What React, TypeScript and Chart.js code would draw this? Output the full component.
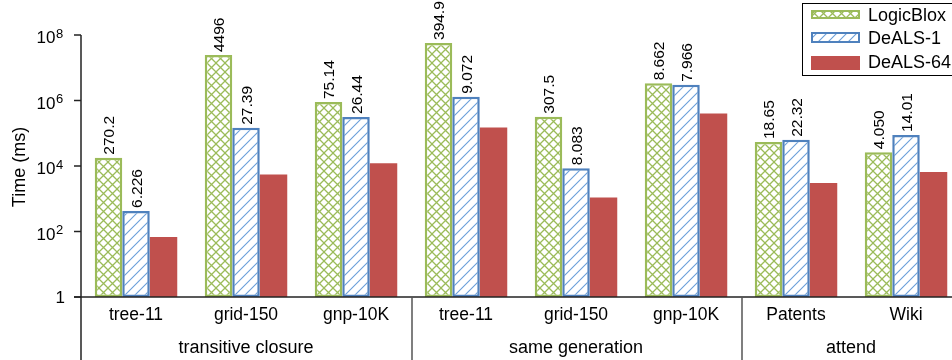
import React, { useEffect, useRef } from "react";
import { Chart, registerables } from "chart.js";

Chart.register(...registerables);

// ---- data ----
const categories = ["tree-11", "grid-150", "gnp-10K", "tree-11", "grid-150", "gnp-10K", "Patents", "Wiki"];
const groups = ["transitive closure", "same generation", "attend"];
const groupSizes = [3, 3, 2];
const seriesNames = ["LogicBlox", "DeALS-1", "DeALS-64"];
const logicBloxMs = [18000, 24400000, 900000, 57000000, 320000, 3350000, 54000, 26500];
const deals1Ms = [425, 147000, 315000, 1300000, 8600, 3000000, 63000, 89000];
const deals64Ms = [68, 5500, 12200, 150000, 1100, 400000, 3000, 6600];
const logicBloxLabels = ["270.2", "4496", "75.14", "394.9", "307.5", "8.662", "18.65", "4.050"];
const deals1Labels = ["6.226", "27.39", "26.44", "9.072", "8.083", "7.966", "22.32", "14.01"];
const yTickValues = [1, 1e2, 1e4, 1e6, 1e8];
const yTickBase = ["1", "10", "10", "10", "10"];
const yTickExponents = ["", "2", "4", "6", "8"];
const yTitle = "Time (ms)";

// ---- style ----
const GREEN = "#9BBB59";
const BLUE = "#4F81BD";
const BLUE_LINE = "#6A9FDA";
const RED = "#C0504D";
const FONT = "'Liberation Sans', Arial, sans-serif";

function makeCross(color: string) {
  const s = 9;
  const c = document.createElement("canvas");
  c.width = s;
  c.height = s;
  const g = c.getContext("2d")!;
  g.fillStyle = "#ffffff";
  g.fillRect(0, 0, s, s);
  g.strokeStyle = color;
  g.lineWidth = 1.3;
  g.beginPath();
  g.moveTo(-1, -1);
  g.lineTo(s + 1, s + 1);
  g.moveTo(s + 1, -1);
  g.lineTo(-1, s + 1);
  g.stroke();
  return g.createPattern(c, "repeat")!;
}

function makeHatch(color: string) {
  const s = 10;
  const c = document.createElement("canvas");
  c.width = s;
  c.height = s;
  const g = c.getContext("2d")!;
  g.fillStyle = "#ffffff";
  g.fillRect(0, 0, s, s);
  g.strokeStyle = color;
  g.lineWidth = 1.1;
  g.beginPath();
  g.moveTo(-1, s + 1);
  g.lineTo(s + 1, -1);
  g.moveTo(-2, 2);
  g.lineTo(2, -2);
  g.moveTo(s - 2, s + 2);
  g.lineTo(s + 2, s - 2);
  g.stroke();
  return g.createPattern(c, "repeat")!;
}

export default function App() {
  const ref = useRef<HTMLCanvasElement>(null);

  useEffect(() => {
    const canvas = ref.current!;
    const greenPat = makeCross(GREEN);
    const bluePat = makeHatch(BLUE_LINE);

    const decor = {
      id: "decor",
      afterDatasetsDraw(chart: any) {
        const ctx: CanvasRenderingContext2D = chart.ctx;
        const xs = chart.scales.x;
        const ys = chart.scales.y;
        const area = chart.chartArea;
        const W = chart.width;
        const H = chart.height;
        ctx.save();

        // data labels (rotated)
        const lfs = 15.5;
        ctx.font = `${lfs}px ${FONT}`;
        ctx.fillStyle = "#000";
        ctx.textAlign = "left";
        ctx.textBaseline = "alphabetic";
        [0, 1].forEach((di) => {
          const meta = chart.getDatasetMeta(di);
          const labels = di === 0 ? logicBloxLabels : deals1Labels;
          meta.data.forEach((bar: any, i: number) => {
            ctx.save();
            ctx.translate(bar.x, bar.y - 3);
            ctx.rotate(-Math.PI / 2);
            ctx.fillText(labels[i], 0, lfs * 0.36);
            ctx.restore();
          });
        });

        // axes
        ctx.strokeStyle = "#222";
        ctx.lineWidth = 1.5;
        ctx.beginPath();
        ctx.moveTo(area.left, area.top);
        ctx.lineTo(area.left, H);
        ctx.stroke();
        const baseY = ys.getPixelForValue(1);
        ctx.beginPath();
        ctx.moveTo(area.left - 7, baseY);
        ctx.lineTo(W, baseY);
        ctx.stroke();
        yTickValues.forEach((v) => {
          const py = ys.getPixelForValue(v);
          ctx.beginPath();
          ctx.moveTo(area.left - 7, py);
          ctx.lineTo(area.left, py);
          ctx.stroke();
        });

        // y tick labels
        ctx.fillStyle = "#000";
        yTickValues.forEach((v, i) => {
          const py = ys.getPixelForValue(v);
          if (yTickExponents[i] === "") {
            ctx.font = `17px ${FONT}`;
            ctx.textAlign = "right";
            ctx.fillText(yTickBase[i], 65, py + 6);
          } else {
            ctx.font = `17px ${FONT}`;
            ctx.textAlign = "right";
            ctx.fillText(yTickBase[i], 55.5, py + 8);
            ctx.font = `13px ${FONT}`;
            ctx.textAlign = "left";
            ctx.fillText(yTickExponents[i], 56, py + 2.5);
          }
        });

        // y title
        ctx.save();
        ctx.font = `18px ${FONT}`;
        ctx.textAlign = "center";
        ctx.translate(25, (area.top + area.bottom) / 2 + 1);
        ctx.rotate(-Math.PI / 2);
        ctx.fillText(yTitle, 0, 0);
        ctx.restore();

        // category labels
        ctx.font = `17.5px ${FONT}`;
        ctx.textAlign = "center";
        categories.forEach((c, i) => {
          ctx.fillText(c, xs.getPixelForValue(i), baseY + 23);
        });

        // group labels and dividers
        const half = (xs.getPixelForValue(1) - xs.getPixelForValue(0)) / 2;
        let start = 0;
        ctx.font = `18px ${FONT}`;
        groups.forEach((g, gi) => {
          const end = start + groupSizes[gi] - 1;
          const left = xs.getPixelForValue(start) - half;
          const right = xs.getPixelForValue(end) + half;
          ctx.fillStyle = "#000";
          ctx.fillText(g, (left + right) / 2, baseY + 56);
          if (gi > 0) {
            ctx.strokeStyle = "#555";
            ctx.lineWidth = 1.5;
            ctx.beginPath();
            ctx.moveTo(left + 1, baseY);
            ctx.lineTo(left + 1, H);
            ctx.stroke();
          }
          start = end + 1;
        });

        // legend
        ctx.fillStyle = "#fff";
        ctx.fillRect(802, 3, 200, 72);
        ctx.strokeStyle = "#000";
        ctx.lineWidth = 1;
        ctx.strokeRect(802.5, 3.5, 200, 72);
        const sw = [
          { y: 10, h: 9, fill: greenPat, border: GREEN },
          { y: 32, h: 11, fill: bluePat, border: BLUE },
          { y: 56, h: 14, fill: RED, border: null },
        ];
        const baselines = [21, 44, 68];
        ctx.font = `18px ${FONT}`;
        ctx.textAlign = "left";
        seriesNames.forEach((n, i) => {
          const s = sw[i];
          ctx.fillStyle = s.fill as any;
          ctx.fillRect(811, s.y, 49, s.h);
          if (s.border) {
            ctx.strokeStyle = s.border;
            ctx.lineWidth = 2;
            ctx.strokeRect(812, s.y + 1, 47, s.h - 2);
          }
          ctx.fillStyle = "#000";
          ctx.fillText(n, 868, baselines[i]);
        });

        ctx.restore();
      },
    };

    const chart = new Chart(canvas, {
      type: "bar",
      data: {
        labels: categories,
        datasets: [
          {
            label: seriesNames[0],
            data: logicBloxMs,
            backgroundColor: greenPat as any,
            borderColor: GREEN,
            borderWidth: 2.5,
            borderSkipped: false,
          },
          {
            label: seriesNames[1],
            data: deals1Ms,
            backgroundColor: bluePat as any,
            borderColor: BLUE,
            borderWidth: 2.5,
            borderSkipped: false,
          },
          {
            label: seriesNames[2],
            data: deals64Ms,
            backgroundColor: RED,
            borderColor: RED,
            borderWidth: 0,
          },
        ],
      },
      options: {
        responsive: false,
        animation: false,
        devicePixelRatio: 1,
        layout: { padding: { left: 81, top: 35, right: 14, bottom: 63 } },
        datasets: { bar: { categoryPercentage: 0.75, barPercentage: 1.0 } },
        plugins: { legend: { display: false }, tooltip: { enabled: false } },
        scales: {
          x: { type: "category", display: false, offset: true },
          y: { type: "logarithmic", min: 1, max: 1e8, display: false },
        },
      },
      plugins: [decor],
    });
    return () => chart.destroy();
  }, []);

  return (
    <div
      style={{
        position: "fixed",
        left: 0,
        top: 0,
        width: 952,
        height: 360,
        overflow: "hidden",
        background: "#fff",
      }}
    >
      <canvas ref={ref} width={975} height={360} style={{ display: "block" }} />
    </div>
  );
}
